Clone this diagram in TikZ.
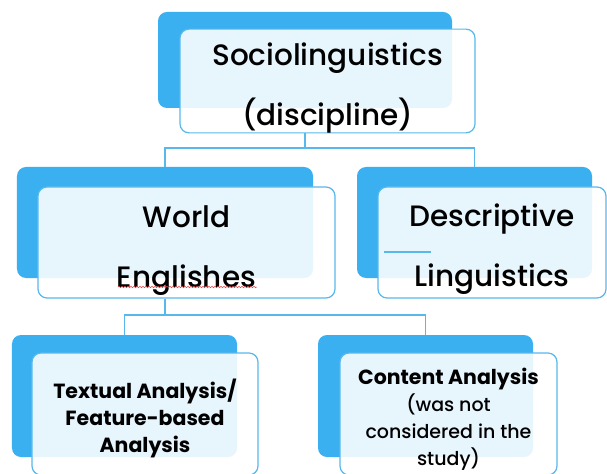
\documentclass[tikz,border=0pt]{standalone}
\usepackage{fontspec}
\setmainfont{Poppins}[UprightFont=* Medium, BoldFont=* Bold]
\usetikzlibrary{decorations.pathmorphing}

\definecolor{boxblue}{RGB}{59,176,240}
\definecolor{lineblue}{RGB}{88,184,236}
\definecolor{spellred}{RGB}{232,70,70}

% strut that pushes a label down inside its tile
\newcommand{\lift}[1]{\rule{0pt}{#1}}
% bold heading line of the lower tiles
\newcommand{\hd}[1]{{\fontsize{20.5bp}{27bp}\selectfont\bfseries #1}}

\tikzset{
  back/.style={fill=boxblue, rounded corners=9bp, inner sep=0pt},
  front/.style={draw=lineblue, line width=1.2bp, fill=white, fill opacity=0.88,
    text opacity=1, rounded corners=9bp, inner sep=0pt, align=center},
  link/.style={draw=lineblue, line width=1.2bp},
  bigtext/.style={font=\fontsize{29.5bp}{60bp}\selectfont},
  smalltext/.style={font=\fontsize{19bp}{27bp}\selectfont},
}

\begin{document}
\begin{tikzpicture}[x=1bp,y=-1bp]
    \useasboundingbox (0,0) rectangle (607,474);

    % back tiles
    \node[back, minimum width=294bp, minimum height=96bp]  (socb) at (305,60) {};
    \node[back, minimum width=296bp, minimum height=111bp] (web)  at (165,222.5) {};
    \node[back, minimum width=235bp, minimum height=111bp] (dlb)  at (474.5,222.5) {};
    \node[back, minimum width=225bp, minimum height=122bp] (tab)  at (124.5,396) {};
    \node[back, minimum width=215bp, minimum height=122bp] (cab)  at (425.5,396) {};

    % front tiles with the labels
    \node[front, bigtext, minimum width=295bp, minimum height=98bp] (soc) at (327.5,81)
        {\lift{36bp}Sociolinguistics\\(discipline)};
    \node[front, bigtext, minimum width=297bp, minimum height=111bp] (we) at (186.5,242.5)
        {\lift{38bp}World\\Englishes};
    \node[front, bigtext, minimum width=228bp, minimum height=111bp] (dl) at (492,242.5)
        {\lift{37bp}Descriptive\\Linguistics};
    \node[front, smalltext, minimum width=226bp, minimum height=122bp] (ta) at (145,414)
        {\lift{29bp}\hd{Textual Analysis/}\\\hd{Feature-based}\\\hd{Analysis}};
    \node[front, smalltext, minimum width=217bp, minimum height=122bp] (ca) at (448.5,414)
        {\lift{26bp}\hd{Content Analysis}\\(was not\\considered in the\\study)};

    % connectors
    \coordinate (j1) at (305,148);
    \coordinate (j2) at (165,315);
    \draw[link] (soc.south -| j1) -- (j1);
    \draw[link] (web.north) |- (j1) -| (dlb.north);
    \draw[link] (we.south -| j2) -- (j2);
    \draw[link] (tab.north) |- (j2) -| (cab.north);

    % stray rule and spelling mark
    \draw[link] ([shift={(7,9.5)}]dl.west) -- ++(47,0);
    \draw[spellred, line width=0.5bp, decorate,
          decoration={snake, amplitude=0.8bp, segment length=3bp}]
        (118,287) -- (257,287);

\end{tikzpicture}
\end{document}
